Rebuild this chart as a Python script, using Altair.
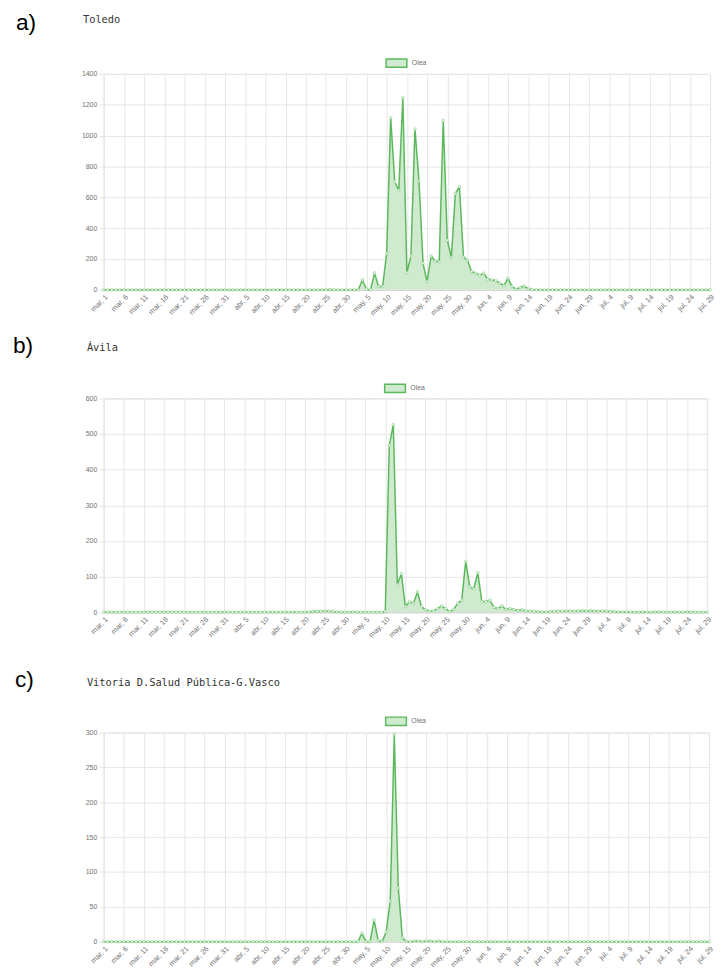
import json
import pandas as pd
import altair as alt

# ---------------- data ----------------
# daily index: 0 = mar 1 ... 150 = jul 29
dias = list(range(151))

tick_labels = ["mar, 1", "mar, 6", "mar, 11", "mar, 16", "mar, 21", "mar, 26", "mar, 31",
               "abr, 5", "abr, 10", "abr, 15", "abr, 20", "abr, 25", "abr, 30",
               "may, 5", "may, 10", "may, 15", "may, 20", "may, 25", "may, 30",
               "jun, 4", "jun, 9", "jun, 14", "jun, 19", "jun, 24", "jun, 29",
               "jul, 4", "jul, 9", "jul, 14", "jul, 19", "jul, 24", "jul, 29"]

toledo = [0, 0, 0, 0, 0, 0, 0, 0, 0, 0,
          0, 0, 0, 0, 0, 0, 0, 0, 0, 0,
          0, 0, 0, 0, 0, 0, 0, 0, 0, 0,
          0, 0, 0, 0, 0, 0, 0, 0, 0, 0,
          0, 0, 0, 0, 0, 0, 0, 0, 0, 0,
          0, 0, 1, 0, 0, 0, 2, 0, 0, 0,
          0, 0, 0, 0, 65, 5, 0, 108, 22, 22,
          236, 1116, 700, 646, 1245, 112, 219, 1042, 706, 172,
          54, 219, 187, 181, 1099, 322, 210, 625, 668, 213,
          191, 119, 108, 95, 108, 69, 65, 59, 44, 27,
          76, 21, 4, 15, 25, 6, 2, 1, 1, 0,
          0, 0, 0, 1, 0, 0, 0, 0, 0, 0,
          0, 0, 0, 0, 0, 0, 0, 0, 0, 0,
          0, 0, 0, 0, 0, 0, 0, 0, 0, 0,
          0, 0, 0, 0, 0, 0, 0, 0, 0, 0, 0]

avila = [0, 0, 0, 0, 0, 0, 0, 0, 0, 0,
         0, 0, 0, 0, 0, 0, 0, 0, 0, 0,
         0, 0, 0, 0, 0, 0, 0, 0, 0, 0,
         0, 0, 0, 0, 0, 0, 0, 0, 0, 0,
         0, 0, 0, 0, 0, 0, 0, 1, 0, 0,
         0, 1, 2, 3, 2, 4, 3, 2, 1, 0,
         0, 0, 1, 0, 0, 0, 0, 0, 0, 0,
         2, 468, 526, 78, 108, 16, 30, 25, 57, 16,
         7, 4, 4, 10, 18, 10, 2, 8, 25, 34,
         143, 71, 66, 111, 30, 30, 34, 14, 10, 18,
         8, 10, 8, 5, 7, 4, 3, 2, 2, 1,
         1, 2, 2, 3, 3, 4, 4, 3, 4, 5,
         4, 5, 4, 3, 4, 3, 2, 2, 1, 1,
         1, 1, 0, 0, 1, 0, 0, 1, 1, 0,
         0, 0, 1, 0, 0, 1, 0, 0, 0, 0, 0]

vitoria = [0, 0, 0, 0, 0, 0, 0, 0, 0, 0,
           0, 0, 0, 0, 0, 0, 0, 0, 0, 0,
           0, 0, 0, 0, 0, 0, 0, 0, 0, 0,
           0, 0, 0, 0, 0, 0, 0, 0, 0, 0,
           0, 0, 0, 0, 0, 0, 0, 0, 0, 0,
           0, 0, 0, 0, 0, 0, 0, 0, 0, 0,
           0, 0, 0, 0, 12, 0, 0, 31, 2, 0,
           14, 58, 298, 77, 6, 0, 0, 1, 1, 0,
           1, 1, 0, 1, 0, 0, 0, 0, 0, 0,
           0, 0, 0, 0, 0, 0, 0, 0, 0, 0,
           0, 0, 0, 0, 0, 0, 0, 0, 0, 0,
           0, 0, 0, 0, 0, 0, 0, 0, 0, 0,
           0, 0, 0, 0, 0, 0, 0, 0, 0, 0,
           0, 0, 0, 0, 0, 0, 0, 0, 0, 0,
           0, 0, 0, 0, 0, 0, 0, 0, 0, 0, 0]

serie = "Olea"

# ---------------- style ----------------
GREEN = "#5cb85c"
FILL = "#cfeacf"
GRID = "#e6e6e6"
LABEL = "#707070"

label_expr = json.dumps(tick_labels) + "[round(datum.value / 5)]"


def panel(values, name, letter, ymax, ystep, w, h, letter_x, letter_y, title_x, title_y, legend_y):
    df = pd.DataFrame({"dia": dias, "valor": values, "serie": serie})
    base = alt.Chart(df).encode(
        x=alt.X("dia:Q",
                scale=alt.Scale(domain=[0, 150], nice=False, zero=False),
                axis=alt.Axis(values=list(range(0, 151, 5)), labelExpr=label_expr,
                              labelAngle=315, title=None, grid=True, gridColor=GRID,
                              ticks=False, domain=True, domainColor="#d2d2d2",
                              labelFont="Liberation Sans", labelFontSize=7.5,
                              labelColor=LABEL, labelOverlap=False, labelPadding=3)),
        y=alt.Y("valor:Q",
                scale=alt.Scale(domain=[0, ymax], nice=False),
                axis=alt.Axis(values=list(range(0, ymax + 1, ystep)), title=None,
                              format="d",
                              grid=True, gridColor=GRID, ticks=True, tickSize=5,
                              tickColor=GRID, domain=False, labelFont="Liberation Sans",
                              labelFontSize=7, labelColor=LABEL, labelPadding=2)),
    )
    area = base.mark_area(interpolate="linear").encode(
        fill=alt.Fill("serie:N", scale=alt.Scale(range=[FILL]),
                      legend=alt.Legend(orient="none", legendX=w / 2 - 22, legendY=legend_y,
                                        title=None, direction="horizontal",
                                        symbolType="M-1,-0.4H1V0.4H-1Z", symbolSize=441,
                                        symbolStrokeColor=GREEN, symbolStrokeWidth=1.5,
                                        labelFont="Liberation Sans", labelFontSize=7,
                                        labelColor=LABEL, labelOffset=4, padding=0))
    )
    line = base.mark_line(color=GREEN, strokeWidth=1.5)
    pts = base.mark_point(filled=True, fill="#f4fbf4", stroke="#7cc97c", strokeWidth=0.6,
                          size=7, opacity=1)
    ttl = alt.Chart(pd.DataFrame({"t": [name]})).mark_text(
        font="DejaVu Sans Mono", fontSize=10.5, align="left", baseline="top",
        color="#333333").encode(text="t:N", x=alt.value(title_x), y=alt.value(title_y))
    let = alt.Chart(pd.DataFrame({"t": [letter]})).mark_text(
        font="Liberation Sans", fontSize=23, align="left", baseline="top",
        color="#000000").encode(text="t:N", x=alt.value(letter_x), y=alt.value(letter_y))
    return alt.layer(area, line, pts, ttl, let).properties(width=w, height=h)


p_toledo = panel(toledo, "Toledo", "a)", 1400, 200, 615, 219,
                 -89, -63, -21, -59.5, -22.5)
p_avila = panel(avila, "Ávila", "b)", 600, 100, 612, 217,
                -92, -64, -17, -56, -21.5)
p_vitoria = panel(vitoria, "Vitoria D.Salud Pública-G.Vasco", "c)", 300, 50, 614, 212,
                  -90, -64, -17, -55, -23)

chart = alt.vconcat(
    alt.vconcat(p_toledo, p_avila, spacing=17).resolve_legend(fill="independent"),
    p_vitoria,
    spacing=29,
).resolve_legend(
    fill="independent"
).properties(
    padding={"left": 4, "top": -4, "right": 0, "bottom": 0}
).configure_view(
    stroke=None, fill="#f9f9f9"
).configure(background="#ffffff")

chart.save("out.html", embed_options={"renderer": "svg", "actions": False})
